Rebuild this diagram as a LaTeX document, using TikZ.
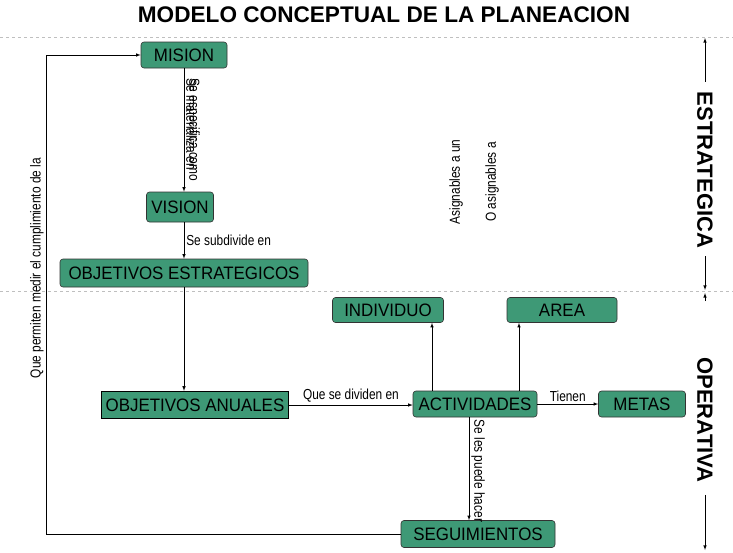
\documentclass[tikz,border=0pt]{standalone}
\usepackage{fontspec}
\setmainfont{Liberation Sans}
\newfontfamily\estrecha[FakeStretch=0.82]{Liberation Sans}
\newfontfamily\cajas[FakeStretch=0.94]{Liberation Sans}
\usetikzlibrary{arrows}
\definecolor{verde}{RGB}{62,153,118}

\begin{document}
\begin{tikzpicture}[x=1pt, y=-1pt, >=latex, semithick,
  concepto/.style={rectangle, rounded corners=3pt, draw=black!80, fill=verde, inner sep=2pt,
    minimum height=26pt, font=\cajas\fontsize{18}{20}\selectfont},
  etiqueta/.style={font=\estrecha\fontsize{14.5}{16}\selectfont, inner sep=2pt},
  nivel/.style={font=\bfseries\fontsize{22}{24}\selectfont, inner sep=0pt},
  separador/.style={dashed, gray!50, thin}]
			\useasboundingbox (0,0) rectangle (733,552);
			\node[font=\bfseries\fontsize{22.6}{24}\selectfont] (titulo) at (384,15) {MODELO CONCEPTUAL DE LA PLANEACION};
			\draw[separador] (0,37) -- (733,37);
			\draw[separador] (0,291) -- (733,291);
			
			\node[concepto, minimum width=86pt] (MIS) at (184,55) {MISION};
			\node[concepto, minimum width=67pt, minimum height=30pt] (VIS) at (180,207) {VISION};
			\node[concepto, minimum width=248pt, minimum height=28pt] (OE) at (184,273) {OBJETIVOS ESTRATEGICOS};
			\node[concepto, minimum width=187pt, minimum height=27pt, sharp corners, draw=black, line width=1.4pt] (OA) at (195,405) {OBJETIVOS ANUALES};
			\node[concepto, minimum width=124pt] (ACT) at (475,404) {ACTIVIDADES};
			\node[concepto, minimum width=87pt] (MET) at (642,404) {METAS};
			\node[concepto, minimum width=111pt, minimum height=25pt] (IND) at (388,310) {INDIVIDUO};
			\node[concepto, minimum width=110pt, minimum height=25pt] (AREA) at (562,310) {AREA};
			\node[concepto, minimum width=154pt, minimum height=27pt] (SEG) at (478,534) {SEGUIMIENTOS};
			\coordinate (retorno) at (46,534);
			
			\draw[->] (MIS.south) -- node[etiqueta, rotate=-90, anchor=south west, pos=0.06] {Se materializa en}
				node[etiqueta, rotate=-90, anchor=south west, pos=0.06] {Se especifica como} (MIS |- VIS.north);
			\draw[->] (MIS |- VIS.south) -- node[etiqueta, right] {Se subdivide en} (MIS |- OE.north);
			\draw[->] (OE.south) -- (OE |- OA.north);
			\draw[->] (OA.east) -- node[etiqueta, above] {Que se dividen en} (OA.east -| ACT.west);
			\draw[->] (ACT.east) -- node[etiqueta, above] {Tienen} (MET.west);
			\draw[->] ([xshift=-43pt]ACT.north) -- ([xshift=-43pt]ACT.north |- IND.south);
			\draw[->] ([xshift=44pt]ACT.north) -- ([xshift=44pt]ACT.north |- AREA.south);
			\draw[->] ([xshift=-6pt]ACT.south) -- node[etiqueta, rotate=-90, anchor=south west, pos=0] {Se les puede hacer} ([xshift=-6pt]ACT.south |- SEG.north);
			\draw[->] (SEG.west) -- (retorno) -- node[etiqueta, rotate=90, anchor=south, pos=0.555] {Que permiten medir el cumplimiento de la} (retorno |- MIS.west) -- (MIS.west);
			
			\node[etiqueta, rotate=90] (asig1) at (456,182) {Asignables a un};
			\node[etiqueta, rotate=90] (asig2) at (492,182) {O asignables a};
			
			\node[nivel, rotate=-90] (EST) at (705,170) {ESTRATEGICA};
			\node[nivel, rotate=-90] (OPE) at (705,420) {OPERATIVA};
			\draw[->] ([yshift=10pt]EST.west) -- (EST.west |- 0,38);
			\draw[->] ([yshift=-8pt]EST.east) -- (EST.east |- 0,290);
			\draw[->] (EST.east |- 0,301) -- (EST.east |- 0,293);
			\draw[->] ([yshift=-12pt]OPE.east) -- (OPE.east |- 0,550);
		\end{tikzpicture}
\end{document}
